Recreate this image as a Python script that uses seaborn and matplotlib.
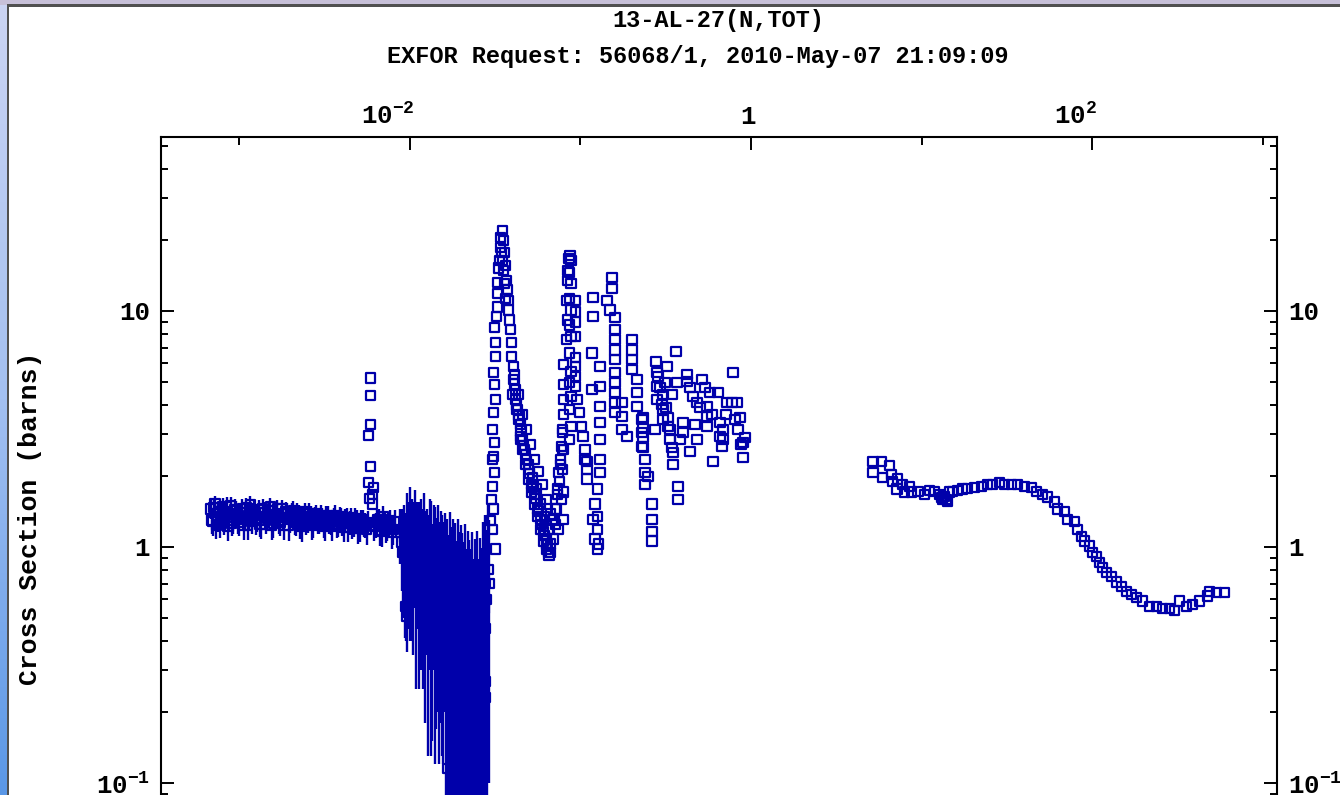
import numpy as np
import pandas as pd
import matplotlib
matplotlib.use("Agg")
import matplotlib.pyplot as plt
import matplotlib.transforms as mtransforms
from matplotlib.patches import Rectangle
from matplotlib.colors import LinearSegmentedColormap
import seaborn as sns

# ---------------- data (energy in MeV, cross section in barns) ----------------
title_line1 = "13-AL-27(N,TOT)"
title_line2 = "EXFOR Request: 56068/1, 2010-May-07 21:09:09"
y_label = "Cross Section (barns)"

x_label_ticks = [1e-2, 1.0, 1e2]
x_tick_labels = ["$\\mathregular{10^{-2}}$", "1", "$\\mathregular{10^{2}}$"]
x_minor_ticks = [1e-3, 1e-1, 1e1, 1e3]
y_major_ticks = [0.01, 0.1, 1.0, 10.0]
y_tick_labels = ["$\\mathregular{10^{-2}}$", "$\\mathregular{10^{-1}}$", "1", "10"]
y_minor_ticks = [0.02, 0.03, 0.04, 0.05, 0.06, 0.07, 0.08, 0.09,
                 0.2, 0.3, 0.4, 0.5, 0.6, 0.7, 0.8, 0.9,
                 2, 3, 4, 5, 6, 7, 8, 9, 20, 30, 40, 50]

# low-energy plateau (with error bars), two interleaved sets
flat_e = [0.68e-3, 0.70e-3, 0.72e-3, 0.75e-3, 0.77e-3, 0.80e-3, 0.83e-3, 0.86e-3, 0.89e-3, 0.92e-3,
          0.96e-3, 1.00e-3, 1.04e-3, 1.08e-3, 1.12e-3, 1.16e-3, 1.20e-3, 1.25e-3, 1.30e-3, 1.35e-3,
          1.40e-3, 1.46e-3, 1.52e-3, 1.58e-3, 1.64e-3, 1.70e-3, 1.77e-3, 1.84e-3, 1.91e-3, 1.99e-3,
          2.07e-3, 2.15e-3, 2.24e-3, 2.33e-3, 2.42e-3, 2.52e-3, 2.62e-3, 2.72e-3, 2.83e-3, 2.94e-3,
          3.06e-3, 3.18e-3, 3.31e-3, 3.44e-3, 3.58e-3, 3.72e-3, 3.87e-3, 4.02e-3, 4.18e-3, 4.35e-3,
          4.52e-3, 4.70e-3, 4.89e-3, 5.08e-3, 5.28e-3, 5.49e-3, 5.71e-3, 6.20e-3, 6.45e-3, 6.70e-3,
          6.97e-3, 7.25e-3, 7.54e-3, 7.84e-3, 8.15e-3]
flat_s = [1.45, 1.28, 1.52, 1.33, 1.25, 1.48, 1.36, 1.22, 1.50, 1.30,
          1.42, 1.27, 1.46, 1.34, 1.24, 1.51, 1.38, 1.29, 1.44, 1.25,
          1.40, 1.33, 1.48, 1.26, 1.37, 1.30, 1.45, 1.24, 1.39, 1.31,
          1.43, 1.27, 1.36, 1.22, 1.41, 1.30, 1.34, 1.25, 1.38, 1.28,
          1.33, 1.22, 1.36, 1.27, 1.31, 1.24, 1.35, 1.26, 1.30, 1.21,
          1.33, 1.25, 1.29, 1.20, 1.31, 1.24, 1.27, 1.22, 1.30, 1.18,
          1.35, 1.20, 1.26, 1.15, 1.28]
flat_d = [0.14, 0.17, 0.13, 0.17, 0.16, 0.14, 0.18, 0.16, 0.13, 0.16,
          0.15, 0.16, 0.14, 0.16, 0.17, 0.13, 0.15, 0.17, 0.14, 0.17,
          0.15, 0.16, 0.13, 0.17, 0.15, 0.16, 0.13, 0.17, 0.15, 0.16,
          0.13, 0.16, 0.15, 0.17, 0.13, 0.15, 0.15, 0.16, 0.13, 0.15,
          0.14, 0.16, 0.13, 0.15, 0.15, 0.15, 0.13, 0.15, 0.15, 0.16,
          0.13, 0.15, 0.15, 0.15, 0.13, 0.15, 0.15, 0.16, 0.14, 0.17,
          0.14, 0.16, 0.15, 0.17, 0.15]
flat2_e = [0.69e-3, 0.71e-3, 0.735e-3, 0.76e-3, 0.785e-3, 0.815e-3, 0.845e-3, 0.875e-3, 0.905e-3, 0.94e-3,
           0.98e-3, 1.02e-3, 1.06e-3, 1.10e-3, 1.14e-3, 1.18e-3, 1.225e-3, 1.275e-3, 1.325e-3, 1.375e-3,
           1.43e-3, 1.49e-3, 1.55e-3, 1.61e-3, 1.67e-3, 1.735e-3, 1.805e-3, 1.875e-3, 1.95e-3, 2.03e-3,
           2.11e-3, 2.195e-3, 2.285e-3, 2.375e-3, 2.47e-3, 2.57e-3, 2.67e-3, 2.775e-3, 2.885e-3, 3.00e-3,
           3.12e-3, 3.245e-3, 3.375e-3, 3.51e-3, 3.65e-3, 3.795e-3, 3.945e-3, 4.10e-3, 4.265e-3, 4.435e-3,
           4.61e-3, 4.795e-3, 4.985e-3, 5.18e-3, 5.385e-3, 5.60e-3, 6.33e-3, 6.57e-3, 6.83e-3, 7.11e-3,
           7.39e-3, 7.69e-3, 8.0e-3]
flat2_s = [1.30, 1.47, 1.24, 1.41, 1.35, 1.27, 1.49, 1.33, 1.26, 1.44,
           1.31, 1.40, 1.23, 1.47, 1.36, 1.28, 1.43, 1.32, 1.25, 1.46,
           1.29, 1.42, 1.24, 1.35, 1.45, 1.27, 1.33, 1.41, 1.23, 1.38,
           1.28, 1.40, 1.25, 1.34, 1.27, 1.39, 1.23, 1.33, 1.29, 1.36,
           1.24, 1.34, 1.28, 1.22, 1.36, 1.25, 1.31, 1.21, 1.33, 1.27,
           1.23, 1.32, 1.20, 1.28, 1.25, 1.19, 1.24, 1.31, 1.17, 1.27,
           1.22, 1.29, 1.19]
flat2_d = [0.17, 0.14, 0.16, 0.16, 0.17, 0.15, 0.14, 0.16, 0.15, 0.15,
           0.17, 0.14, 0.16, 0.14, 0.17, 0.15, 0.15, 0.16, 0.15, 0.14,
           0.16, 0.14, 0.17, 0.15, 0.13, 0.16, 0.15, 0.14, 0.17, 0.15,
           0.16, 0.14, 0.17, 0.15, 0.15, 0.15, 0.16, 0.15, 0.16, 0.14,
           0.15, 0.15, 0.15, 0.16, 0.14, 0.15, 0.15, 0.16, 0.14, 0.15,
           0.15, 0.15, 0.17, 0.15, 0.15, 0.17, 0.15, 0.14, 0.17, 0.15,
           0.16, 0.14, 0.17]

# 5.9 keV resonance spike
spike_e = [5.86e-3, 5.86e-3, 5.86e-3, 5.70e-3, 5.86e-3, 5.70e-3, 6.02e-3, 6.02e-3, 5.78e-3, 6.10e-3]
spike_s = [5.2, 4.4, 3.3, 2.97, 2.2, 1.88, 1.67, 1.52, 1.6, 1.79]

# 9-30 keV interference dip with large uncertainties
dense_e = [8.8e-3, 8.95e-3, 9.1e-3, 9.3e-3, 9.45e-3, 9.6e-3, 9.8e-3, 10.0e-3, 10.15e-3, 10.35e-3,
           10.5e-3, 10.7e-3, 10.9e-3, 11.1e-3, 11.3e-3, 11.5e-3, 11.7e-3, 11.9e-3, 12.1e-3, 12.35e-3,
           12.6e-3, 12.8e-3, 13.05e-3, 13.3e-3, 13.55e-3, 13.8e-3, 14.05e-3, 14.3e-3, 14.6e-3, 14.85e-3,
           15.15e-3, 15.4e-3, 15.7e-3, 16.0e-3, 16.3e-3, 16.6e-3, 16.9e-3, 17.2e-3, 17.5e-3, 17.85e-3,
           18.2e-3, 18.5e-3, 18.85e-3, 19.2e-3, 19.55e-3, 19.9e-3, 20.3e-3, 20.7e-3, 21.05e-3, 21.45e-3,
           21.85e-3, 22.25e-3, 22.7e-3, 23.1e-3, 23.5e-3, 23.95e-3, 24.4e-3, 24.85e-3, 25.3e-3, 25.8e-3,
           26.25e-3, 26.75e-3, 27.25e-3, 27.75e-3, 28.25e-3, 28.8e-3, 29.3e-3]
dense_s = [1.15, 1.05, 0.95, 1.10, 0.90, 1.20, 1.00, 1.10, 0.85, 1.05, 0.95, 1.15, 0.90, 1.00, 0.80, 0.95,
           0.95, 0.85, 1.00, 0.80, 0.90, 0.75, 0.95, 0.85, 0.70, 0.90, 0.80, 0.75, 0.85, 0.70, 0.80,
           0.75, 0.70, 0.80, 0.65, 0.70, 0.60, 0.75, 0.65, 0.70, 0.60, 0.65, 0.55, 0.70, 0.60, 0.65,
           0.60, 0.55, 0.65, 0.50, 0.60, 0.55, 0.50, 0.60, 0.45, 0.55, 0.50, 0.60, 0.45, 0.55, 0.50,
           0.65, 0.55, 0.70, 0.60, 0.80, 0.70]
dense_d = [0.30, 0.40, 0.45, 0.40, 0.50, 0.50, 0.55, 0.70, 0.45, 0.55, 0.60, 0.60, 0.65, 0.55, 0.55, 0.60,
           0.65, 0.60, 0.70, 0.62, 0.55, 0.62, 0.65, 0.72, 0.55, 0.60, 0.68, 0.58, 0.65, 0.58, 0.62,
           0.62, 0.58, 0.60, 0.60, 0.62, 0.52, 0.66, 0.57, 0.62, 0.56, 0.61, 0.51, 0.62, 0.56, 0.59,
           0.55, 0.50, 0.60, 0.48, 0.57, 0.52, 0.48, 0.56, 0.44, 0.53, 0.49, 0.57, 0.44, 0.54, 0.49,
           0.62, 0.53, 0.66, 0.58, 0.70, 0.60]

# isolated low points inside the dip
low_e = [0.0136, 0.0166, 0.0183, 0.0276, 0.0277, 0.0279, 0.0094, 0.0096]
low_s = [0.42, 0.115, 0.23, 0.45, 0.27, 0.23, 0.56, 0.51]
low_d = [0.10, 0.05, 0.10, 0.20, 0.12, 0.10, 0.15, 0.15]

# resonance region 30 keV - 1 MeV
res_e = [0.03165, 0.03039, 0.02958, 0.03080, 0.02998, 0.03039, 0.03122, 0.03039, 0.03080, 0.03122,
         0.03039, 0.03080, 0.03165, 0.03122, 0.03080, 0.03165, 0.03165, 0.03122, 0.03208, 0.03251,
         0.03251, 0.03251, 0.03295, 0.03340, 0.03386, 0.03386, 0.03478, 0.03526, 0.03432, 0.03573,
         0.03478, 0.03622, 0.03526, 0.03671, 0.03573, 0.03721, 0.03772, 0.03622, 0.03772, 0.03823,
         0.03875, 0.03927, 0.03927, 0.04034, 0.04034, 0.04144, 0.04144, 0.04257, 0.04315, 0.04433,
         0.04433, 0.04555, 0.04555, 0.04743, 0.04743, 0.04939, 0.04939, 0.05143, 0.05143, 0.05356,
         0.05356, 0.05576, 0.05576, 0.05807, 0.05807, 0.06047, 0.06047, 0.06297, 0.06297, 0.06467,
         0.06645, 0.04100, 0.04200, 0.04370, 0.04490, 0.04650, 0.04840, 0.05040, 0.05250, 0.05460,
         0.05690, 0.05930, 0.06170, 0.06380, 0.06550, 0.06826, 0.07109, 0.07303, 0.07402, 0.07604,
         0.07708, 0.07812, 0.07918, 0.07812, 0.07918, 0.07812, 0.07918, 0.07918, 0.07918, 0.07918,
         0.08245, 0.08357, 0.08245, 0.08357, 0.08470, 0.08585, 0.08702, 0.08800, 0.08600, 0.08800,
         0.08600, 0.08800, 0.08600, 0.08800, 0.08600, 0.08800, 0.08600, 0.08800, 0.08600, 0.08800,
         0.08600, 0.09311, 0.09311, 0.09311, 0.09311, 0.09311, 0.09311, 0.09311, 0.09311, 0.09560,
         0.09830, 0.10100, 0.10370, 0.10650, 0.10650, 0.10940, 0.10940, 0.10940, 0.13040, 0.13040,
         0.13040, 0.13040, 0.13040, 0.13040, 0.13040, 0.11870, 0.11870, 0.11710, 0.11710, 0.12530,
         0.12530, 0.12190, 0.12530, 0.12190, 0.12530, 0.11870, 0.12700, 0.15330, 0.15330, 0.14330,
         0.14930, 0.15970, 0.15970, 0.15970, 0.15970, 0.15970, 0.15970, 0.15970, 0.15970, 0.15970,
         0.15970, 0.17550, 0.17550, 0.17550, 0.18780, 0.20090, 0.20090, 0.20090, 0.20090, 0.21480,
         0.21480, 0.21480, 0.22980, 0.22980, 0.22980, 0.23930, 0.23930, 0.23930, 0.26300, 0.26300,
         0.26300, 0.26300, 0.23290, 0.23290, 0.23290, 0.23290, 0.24920, 0.27400, 0.27770, 0.28150,
         0.28150, 0.28150, 0.28520, 0.29300, 0.30510, 0.30100, 0.31770, 0.30510, 0.30510, 0.31340,
         0.34450, 0.32200, 0.32640, 0.32640, 0.33530, 0.33530, 0.34450, 0.34920, 0.34920, 0.37360,
         0.37360, 0.36360, 0.36860, 0.42170, 0.42170, 0.43910, 0.45720, 0.48270, 0.50270, 0.51640,
         0.53770, 0.57520, 0.64060, 0.78450, 0.72360, 0.77400, 0.82810, 0.86220, 0.89790, 0.89790,
         0.59890, 0.65810, 0.68550, 0.65810, 0.67610, 0.68550, 0.55250, 0.55250, 0.55250, 0.48270,
         0.39960, 0.39960, 0.38380, 0.43910, 0.47000, 0.59090, 0.71400, 0.80570, 0.92240, 0.84000, 0.87500]
res_s = [0.98, 1.19, 1.29, 1.45, 1.59, 1.81, 2.07, 2.35, 2.42, 2.77,
         3.15, 3.71, 4.21, 4.87, 5.48, 6.40, 7.33, 8.48, 9.45, 10.4,
         11.9, 13.2, 15.2, 16.4, 18.6, 20.5, 21.9, 19.9, 17.7, 17.7,
         16.4, 15.6, 14.9, 13.5, 13.1, 12.3, 11.1, 11.3, 10.1, 9.16,
         8.32, 7.33, 6.40, 5.80, 5.11, 4.64, 4.21, 3.82, 3.47, 3.30,
         2.94, 2.85, 2.59, 2.47, 2.24, 2.13, 1.94, 1.84, 1.71, 1.67,
         1.52, 1.45, 1.35, 1.31, 1.19, 1.16, 1.06, 1.08, 0.98, 0.95,
         1.03, 4.90, 4.00, 3.60, 3.10, 2.70, 2.35, 2.05, 1.78, 1.60,
         1.42, 1.25, 1.12, 1.02, 0.92, 1.31, 1.45, 1.76, 2.07, 2.35,
         2.67, 3.06, 1.71, 2.13, 2.59, 3.15, 3.64, 4.21, 4.87, 5.91,
         7.55, 9.16, 11.1, 13.5, 14.9, 16.7, 17.2, 16.4, 14.6, 13.1,
         11.3, 10.1, 8.73, 7.78, 6.64, 5.53, 4.97, 4.34, 3.82, 3.24,
         2.85, 11.1, 9.90, 8.98, 7.78, 6.34, 5.80, 5.27, 4.78, 4.21,
         3.71, 3.24, 2.94, 2.59, 2.35, 2.13, 1.94, 2.30, 5.80, 4.78,
         3.93, 3.37, 2.85, 2.35, 2.07, 11.4, 9.45, 6.64, 4.64, 1.35,
         1.19, 1.08, 0.98, 1.52, 1.76, 1.31, 1.03, 13.9, 12.5, 11.1,
         10.1, 9.35, 8.32, 7.55, 6.84, 6.21, 5.48, 4.97, 4.51, 4.09,
         3.71, 4.09, 3.57, 3.15, 2.94, 7.55, 6.84, 6.21, 5.64, 5.11,
         4.51, 3.93, 3.47, 3.06, 2.67, 2.35, 2.07, 1.84, 1.52, 1.31,
         1.16, 1.06, 3.54, 3.21, 2.91, 2.64, 1.99, 3.15, 6.09, 5.48,
         4.78, 4.21, 5.27, 4.73, 4.42, 4.01, 3.89, 3.82, 3.47, 4.97,
         4.42, 5.80, 3.54, 3.24, 3.15, 2.85, 2.64, 2.52, 2.24, 1.81,
         1.59, 6.74, 4.97, 5.37, 5.01, 4.73, 4.34, 4.09, 3.89, 5.11,
         4.73, 4.51, 4.51, 5.48, 4.09, 4.09, 4.09, 3.54, 2.77, 2.40,
         2.30, 3.37, 3.15, 2.94, 2.67, 2.85, 3.93, 3.57, 3.24, 2.85,
         3.06, 3.37, 2.85, 2.54, 3.30, 3.63, 3.63, 3.47, 2.91, 3.15, 2.72]

# extra points in the band between the 35 keV and 87 keV resonances
res2_e = [0.03980, 0.04089, 0.04201, 0.04315, 0.04433, 0.04555, 0.04680, 0.04808, 0.04939, 0.05074,
          0.05212, 0.05356, 0.05501, 0.05652, 0.05807, 0.05966, 0.06129, 0.06297, 0.06467, 0.06645,
          0.06297, 0.06645, 0.06920, 0.07109, 0.07206, 0.07303, 0.07503, 0.07604, 0.07812, 0.07708,
          0.07918, 0.07402]
res2_s = [4.42, 5.37, 3.82, 4.42, 2.85, 3.64, 2.59, 3.15, 2.24, 2.72,
          1.97, 2.35, 1.76, 2.09, 1.52, 1.84, 1.34, 1.59, 1.19, 1.38,
          1.03, 0.95, 1.08, 1.25, 1.45, 1.67, 1.90, 2.24, 2.59, 1.59,
          1.31, 1.19]

# high-energy data 5 - 600 MeV
hi_e = [5.19, 5.85, 5.19, 6.52, 5.93, 6.70, 6.79, 7.26, 7.17, 7.76,
        7.98, 8.54, 8.77, 9.52, 10.45, 11.18, 11.96, 12.80, 13.33, 14.07,
        14.65, 15.25, 17.45, 18.67, 20.52, 22.55, 24.48, 26.17, 28.76, 30.76,
        33.81, 36.68, 40.29, 44.27, 47.38, 51.37, 54.96, 60.39, 62.89, 69.11,
        71.95, 79.09, 82.31, 86.80, 90.51, 96.8, 100.8, 106.4, 110.8, 115.6,
        121.8, 130.4, 139.5, 149.1, 159.5, 170.7, 182.6, 198.2, 217.5, 239.3,
        259.6, 284.9, 304.8, 326.1, 358.3, 388.8, 427.1, 476.5, 488.6, 536.9,
        598.4, 13.69, 14.26, 13.16, 16.3]
hi_s = [2.30, 2.30, 2.07, 2.22, 1.97, 2.03, 1.90, 1.94, 1.76, 1.84,
        1.71, 1.81, 1.71, 1.72, 1.67, 1.74, 1.72, 1.67, 1.59, 1.59,
        1.71, 1.72, 1.76, 1.77, 1.79, 1.81, 1.84, 1.84, 1.88, 1.84,
        1.84, 1.84, 1.81, 1.79, 1.72, 1.67, 1.63, 1.55, 1.45, 1.41,
        1.31, 1.28, 1.19, 1.11, 1.06, 1.01, 0.95, 0.91, 0.86, 0.82,
        0.78, 0.75, 0.71, 0.68, 0.65, 0.63, 0.61, 0.59, 0.56, 0.56,
        0.55, 0.55, 0.54, 0.59, 0.56, 0.57, 0.59, 0.62, 0.65, 0.64,
        0.64, 1.64, 1.56, 1.62, 1.74]

# ---------------- styling ----------------
BLUE = "#0000AA"
W, H = 1340, 795

sns.set_theme(style="white")
plt.rcParams['font.family'] = ['Liberation Mono', 'DejaVu Sans Mono']
plt.rcParams['font.weight'] = 'bold'
plt.rcParams['mathtext.fontset'] = 'custom'
plt.rcParams['mathtext.rm'] = 'Liberation Mono:bold'
plt.rcParams['mathtext.it'] = 'Liberation Mono:bold'
plt.rcParams['mathtext.bf'] = 'Liberation Mono:bold'

fig = plt.figure(figsize=(W / 100, H / 100), dpi=100)
fig.patch.set_facecolor("white")

# window decoration (left gradient strip and top strip)
gax = fig.add_axes([0, 0, 6.5 / W, 1 - 4 / H])
grad = np.linspace(0, 1, 256)[:, None]
cmap = LinearSegmentedColormap.from_list("win", ["#cbd4f3", "#a3c0f1", "#5a97e6"])
gax.imshow(grad, aspect="auto", cmap=cmap, extent=[0, 1, 0, 1], origin="upper")
gax.set_axis_off()
fig.add_artist(Rectangle((0, 1 - 4.5 / H), 1, 4.5 / H, transform=fig.transFigure,
                         facecolor="#c7c0d8", edgecolor="none"))
fig.add_artist(Rectangle((6.5 / W, 1 - 6.5 / H), 1, 2.2 / H, transform=fig.transFigure,
                         facecolor="#505050", edgecolor="none"))
fig.add_artist(Rectangle((6.5 / W, 0), 2.0 / W, 1 - 4.5 / H, transform=fig.transFigure,
                         facecolor="#505050", edgecolor="none"))

# main axes: top at 137 px, x from 161 to 1277 px; bottom extends below the image
ax = fig.add_axes([161 / W, (H - 1019) / H, (1277 - 161) / W, (1019 - 137) / H])
ax.set_facecolor("white")
ax.set_xscale("log")
ax.set_yscale("log")

# error bars
err_e = flat_e + flat2_e + dense_e + low_e
err_s = flat_s + flat2_s + dense_s + low_s
err_d = flat_d + flat2_d + dense_d + low_d
ax.errorbar(err_e, err_s, yerr=err_d, fmt="none", ecolor=BLUE, elinewidth=1.7,
            capsize=0, zorder=2)

# points
df = pd.DataFrame({
    "energy": flat_e + flat2_e + spike_e + dense_e + low_e + res_e + res2_e + hi_e,
    "sigma": flat_s + flat2_s + spike_s + dense_s + low_s + res_s + res2_s + hi_s,
})
sns.scatterplot(data=df, x="energy", y="sigma", marker="s", s=44, color=BLUE,
                linewidth=1.6, ax=ax, zorder=3, legend=False)
coll = ax.collections[-1]
coll.set_facecolor("none")
coll.set_edgecolor(BLUE)
coll.set_linewidth(1.6)

ax.set_xlim(3.477e-4, 1213)
ax.set_ylim(0.01, 54.6)
ax.set_xlabel("")
ax.set_ylabel("")

# ticks
ax.set_xticks(x_label_ticks, labels=x_tick_labels)
ax.set_xticks(x_minor_ticks, minor=True)
ax.set_yticks(y_major_ticks, labels=y_tick_labels)
ax.set_yticks(y_minor_ticks, minor=True)
ax.xaxis.set_minor_formatter(plt.NullFormatter())
ax.yaxis.set_minor_formatter(plt.NullFormatter())

ax.tick_params(axis="x", which="major", direction="in", length=9.4, width=1.4,
               top=True, bottom=False, labeltop=True, labelbottom=False,
               pad=6, labelsize=18.5, colors="black")
ax.tick_params(axis="x", which="minor", direction="in", length=5.8, width=1.4,
               top=True, bottom=False, colors="black")
ax.tick_params(axis="y", which="major", direction="in", length=9.4, width=1.4,
               left=True, right=True, labelleft=True, labelright=True,
               pad=8, labelsize=18.5, colors="black")
ax.tick_params(axis="y", which="minor", direction="in", length=5.0, width=1.4,
               left=True, right=True, colors="black")

for side in ["left", "right", "top", "bottom"]:
    ax.spines[side].set_color("black")
    ax.spines[side].set_linewidth(1.5)
    ax.spines[side].set_visible(True)

# x tick labels are right-aligned slightly past the tick
offset = mtransforms.ScaledTranslation(5 / 100, 0, fig.dpi_scale_trans)
for t in ax.xaxis.get_major_ticks():
    t.label2.set_horizontalalignment("right")
    t.label2.set_transform(t.label2.get_transform() + offset)

# titles and axis label
fig.text(718 / W, 1 - 20 / H, title_line1, ha="center", va="center",
         fontsize=17, fontweight="bold", color="black")
fig.text(698 / W, 1 - 56 / H, title_line2, ha="center", va="center",
         fontsize=17, fontweight="bold", color="black")
fig.text(30 / W, 1 - 518 / H, y_label, rotation=90, ha="center", va="center",
         fontsize=19, fontweight="bold", color="black")

fig.savefig("out.png", dpi=100, facecolor="white")
